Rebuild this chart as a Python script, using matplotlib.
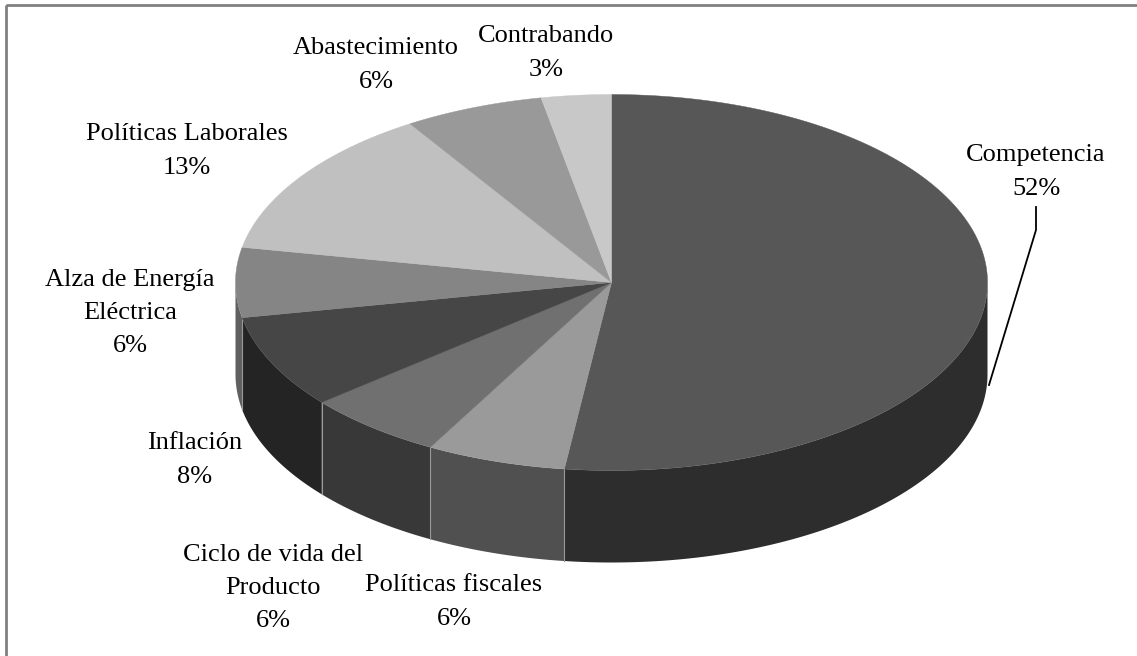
import numpy as np
from matplotlib import pyplot as plt
from matplotlib.patches import Polygon, Rectangle

plt.rcParams['font.family'] = ['Liberation Serif', 'DejaVu Serif']

categories = ['Competencia', 'Políticas fiscales', 'Ciclo de vida del\nProducto', 'Inflación',
              'Alza de Energía\nEléctrica', 'Políticas Laborales', 'Abastecimiento', 'Contrabando']
values = [52, 6, 6, 8, 6, 13, 6, 3]
labels = ['52%', '6%', '6%', '8%', '6%', '13%', '6%', '3%']
top_colors = ['#575757', '#9a9a9a', '#707070', '#464646', '#858585', '#c0c0c0', '#999999', '#c8c8c8']
side_colors = ['#2d2d2d', '#505050', '#383838', '#242424', '#606060', '#a0a0a0', '#808080', '#a0a0a0']
label_pos = [(1036, 172), (454, 602), (273, 588), (195, 460), (130, 313), (187, 151), (376, 65), (546, 53)]

cx, cy = 611.5, 282.5
rx, ry = 376, 188
depth = 92

W, H = 1137, 656
fig = plt.figure(figsize=(W / 100, H / 100), dpi=100)
ax = fig.add_axes([0, 0, 1, 1])
ax.set_xlim(0, W)
ax.set_ylim(H, 0)
ax.axis('off')


def rim(a0, a1, n=200):
    t = np.radians(np.linspace(a0, a1, n))
    return cx + rx * np.sin(t), cy - ry * np.cos(t)


edges = np.concatenate([[0], np.cumsum(values)]) * 3.6

# side walls, front half only
for i in range(len(values)):
    a0, a1 = max(edges[i], 90), min(edges[i + 1], 270)
    if a1 <= a0:
        continue
    x, y = rim(a0, a1)
    pts = np.vstack([np.c_[x, y], np.c_[x[::-1], y[::-1] + depth]])
    ax.add_patch(Polygon(pts, fc=side_colors[i], ec='none', zorder=2))
    if i > 0:
        ax.plot([x[0], x[0]], [y[0], y[0] + depth], color='#999999', lw=0.8, zorder=3)

# top face
for i in range(len(values)):
    x, y = rim(edges[i], edges[i + 1])
    pts = np.vstack([[cx, cy], np.c_[x, y]])
    ax.add_patch(Polygon(pts, fc=top_colors[i], ec=top_colors[i], lw=0.3, zorder=4))

for c, l, (lx, ly) in zip(categories, labels, label_pos):
    ax.text(lx, ly, c + '\n' + l, ha='center', va='center', fontsize=19,
            color='black', linespacing=1.66, zorder=5)

# leader line for the big slice
ax.plot([1036, 1036, 989], [207, 230, 385], color='black', lw=1.3, zorder=5)

ax.add_patch(Rectangle((6, 5), W, H, fc='none', ec='#808080', lw=2, zorder=6))

fig.savefig('out.png', dpi=100)
